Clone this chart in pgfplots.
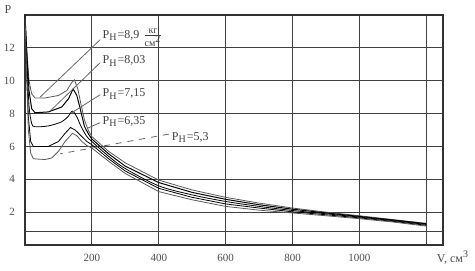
\documentclass[border=0pt]{standalone}
\usepackage{amsmath}
\usepackage{pgfplots}
\pgfplotsset{compat=1.18}
\usepackage{fontspec}
\setmainfont{Liberation Serif}
\begin{document}
\begin{tikzpicture}
\useasboundingbox (-12.5pt,-13pt) rectangle (225pt,122.5pt);
\begin{axis}[
 at={(0pt,0pt)}, anchor=south west,
 scale only axis, width=209pt, height=115pt,
 xmin=0, xmax=1250, ymin=0, ymax=14,
 xtick={200,400,600,800,1000,1200}, xticklabels={200,400,600,800,1000,{}},
 ytick={2,4,6,8,10,12},
 extra y ticks={0.8}, extra y tick labels={},
 extra y tick style={grid=major},
 major tick length=0pt,
 grid=major, grid style={black!75, line width=0.6pt},
 axis line style={black!80, line width=0.6pt},
 /pgf/number format/assume math mode=true,
 tick label style={font=\fontsize{5.5}{6}\selectfont, text=black!70},
 yticklabel style={xshift=-1.5pt},
 xticklabel style={yshift=-1pt},
 cycle list={{black!65, line width=0.5pt, smooth, tension=0.35}},
 no markers,
 clip=false,
]
% P_H = 8,9
\addplot coordinates {(0,14)(5,12)(12,10)(20,9.2)(30,8.95)(60,8.95)(100,9.1)(125,9.4)(140,9.9)(148,10.05)(158,9.5)(168,8.5)(178,7.6)(190,6.95)(200,6.6)(250,5.7)(300,5.0)(400,3.95)(500,3.35)(600,2.9)(700,2.55)(800,2.25)(900,2.0)(1000,1.78)(1100,1.55)(1200,1.32)};
% P_H = 8,03
\addplot coordinates {(0,14)(5,11.8)(12,9.4)(20,8.3)(30,8.05)(70,8.1)(110,8.4)(130,8.9)(144,9.5)(155,9.1)(165,8.3)(178,7.2)(190,6.75)(200,6.45)(250,5.55)(300,4.8)(400,3.8)(500,3.2)(600,2.78)(700,2.45)(800,2.18)(900,1.95)(1000,1.74)(1100,1.52)(1200,1.29)};
% P_H = 7,15
\addplot coordinates {(0,14)(5,11.5)(12,8.5)(20,7.4)(30,7.2)(70,7.25)(110,7.5)(130,7.85)(142,8.15)(155,7.8)(168,7.2)(185,6.6)(200,6.3)(250,5.4)(300,4.65)(400,3.6)(500,3.05)(600,2.65)(700,2.35)(800,2.1)(900,1.9)(1000,1.7)(1100,1.48)(1200,1.25)};
% P_H = 6,35
\addplot coordinates {(0,14)(4,11.2)(10,7.8)(17,6.3)(25,6.0)(70,6.0)(100,6.3)(120,6.8)(136,7.15)(150,7.0)(165,6.7)(185,6.3)(200,6.1)(250,5.25)(300,4.5)(400,3.45)(500,2.9)(600,2.5)(700,2.25)(800,2.02)(900,1.84)(1000,1.65)(1100,1.44)(1200,1.2)};
% P_H = 5,3
\addplot coordinates {(0,14)(4,11)(10,7)(17,5.6)(25,5.25)(60,5.2)(80,5.3)(100,5.7)(120,6.3)(142,6.8)(155,6.65)(170,6.3)(185,6.05)(200,5.9)(250,5.1)(300,4.35)(400,3.25)(500,2.75)(600,2.35)(700,2.12)(800,1.95)(900,1.78)(1000,1.6)(1100,1.4)(1200,1.15)};
% leader lines
\addplot[black!60, line width=0.4pt, sharp plot] coordinates {(225,12.5)(45,9.0)};
\addplot[black!60, line width=0.4pt, sharp plot] coordinates {(225,11.1)(75,8.15)};
\addplot[black!60, line width=0.4pt, sharp plot] coordinates {(225,9.15)(140,8.05)};
\addplot[black!60, line width=0.4pt, sharp plot] coordinates {(225,7.45)(186,7.1)};
\addplot[black!60, line width=0.4pt, sharp plot, dashed] coordinates {(430,6.75)(105,5.55)};
\node[anchor=west, inner sep=1pt, font=\fontsize{6}{7}\selectfont, text=black!75] at (axis cs:225,12.6) {P$_\mathrm{H}$=8,9 $\frac{\text{кг}}{\text{см\textsuperscript{2}}}$};
\node[anchor=west, inner sep=1pt, font=\fontsize{6}{7}\selectfont, text=black!75] at (axis cs:225,11.2) {P$_\mathrm{H}$=8,03};
\node[anchor=west, inner sep=1pt, font=\fontsize{6}{7}\selectfont, text=black!75] at (axis cs:225,9.2) {P$_\mathrm{H}$=7,15};
\node[anchor=west, inner sep=1pt, font=\fontsize{6}{7}\selectfont, text=black!75] at (axis cs:225,7.5) {P$_\mathrm{H}$=6,35};
\node[anchor=west, inner sep=1pt, font=\fontsize{6}{7}\selectfont, text=black!75] at (axis cs:432,6.55) {P$_\mathrm{H}$=5,3};
\node[font=\fontsize{6}{7}\selectfont, text=black!70] at (rel axis cs:0,1) [xshift=-8.5pt, yshift=2.5pt] {P};
\node[font=\fontsize{6}{7}\selectfont, text=black!70] at (rel axis cs:1,0) [xshift=5pt, yshift=-6.5pt] {V, см\textsuperscript{3}};
\end{axis}
\end{tikzpicture}
\end{document}
